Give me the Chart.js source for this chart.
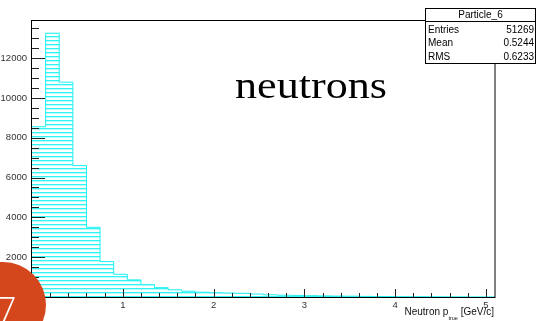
<!DOCTYPE html>
<html>
<head>
<meta charset="utf-8">
<script src="https://cdn.jsdelivr.net/npm/chart.js@4.4.1/dist/chart.umd.min.js"></script>
<style>
  html, body { margin: 0; padding: 0; background: #fff; }
  canvas { display: block; }
</style>
</head>
<body>
<canvas id="myChart" width="537" height="321"></canvas>
<script>
// neutron momentum histogram, 0.15 GeV/c bins from 0 to 5.1
const binWidth = 0.15
const xMax = 5.1
const counts = [
  8550, 13250, 10790, 6600, 3500, 1780, 1140, 860, 620, 470,
  360, 290, 240, 215, 200, 185, 150, 110, 90, 80,
  65, 55, 45, 40, 30, 25, 20, 18, 15, 12,
  10, 8, 6, 5
]
const xTicks = [1, 2, 3, 4, 5]
const yTicks = [2000, 4000, 6000, 8000, 10000, 12000]
const histName = 'Particle_6'
const statLabels = ['Entries', 'Mean', 'RMS']
const statValues = ['51269', '0.5244', '0.6233']
const label = 'neutrons'
const slideNo = '7'

const cyan = '#1ff0f0'
const tickFont = { family: 'Liberation Sans', size: 9.5 }

// horizontal hatch used as the histogram fill
makeHatch = () => {
  const c = document.createElement('canvas')
  c.width = 4
  c.height = 4
  const g = c.getContext('2d')
  g.fillStyle = '#ffffff'
  g.fillRect(0, 0, 4, 4)
  g.fillStyle = '#2ff6f6'
  g.fillRect(0, 0, 4, 1)
  g.fillStyle = '#b8fbfb'
  g.fillRect(0, 1, 4, 1)
  return g.createPattern(c, 'repeat')
}

// step outline: (lower edge, count) then one point per upper bin edge carrying the bin count
let points = [{ x: 0, y: counts[0] }]
counts.forEach((c, i) => points.push({ x: +((i + 1) * binWidth).toFixed(2), y: c }))

const yMax = 1.05 * Math.max(...counts)

const rootDecor = {
  id: 'rootDecor',
  afterDraw: (chart) => {
    const ctx = chart.ctx
    const a = chart.chartArea
    const xs = chart.scales.x
    const ys = chart.scales.y
    ctx.save()

    // frame
    ctx.strokeStyle = '#000'
    ctx.lineWidth = 1
    ctx.strokeRect(a.left - 0.5, a.top + 0.5, a.right - a.left + 0.5, a.bottom - a.top)

    // tick marks drawn inward, minor every 500 / 0.2
    ctx.strokeStyle = '#222'
    ctx.beginPath()
    for (let v = 0; v <= yMax; v += 500) {
      const py = Math.round(ys.getPixelForValue(v)) + 0.5
      const len = v % 2000 === 0 ? 13 : 7
      ctx.moveTo(a.left, py)
      ctx.lineTo(a.left + len, py)
    }
    for (let k = 0; k * 0.2 <= xMax + 1e-6; k++) {
      const px = Math.round(xs.getPixelForValue(k * 0.2)) + 0.5
      const len = k % 5 === 0 ? 8 : 4
      ctx.moveTo(px, a.bottom)
      ctx.lineTo(px, a.bottom - len)
    }
    ctx.stroke()

    // large in-plot label
    ctx.fillStyle = '#000'
    ctx.font = '38px "Liberation Serif"'
    ctx.textBaseline = 'alphabetic'
    const lw = ctx.measureText(label).width
    ctx.save()
    ctx.translate(235, 98)
    ctx.scale(152 / lw, 1)
    ctx.fillText(label, 0, 0)
    ctx.restore()

    // axis title with subscript
    ctx.fillStyle = '#111'
    ctx.font = '10px "Liberation Sans"'
    ctx.textAlign = 'right'
    const unit = ' [GeV/c]'
    ctx.fillText(unit, 494, 315)
    const uw = ctx.measureText(unit).width
    ctx.font = '5.5px "Liberation Sans"'
    const sub = 'true'
    ctx.fillText(sub, 494 - uw, 320)
    const sw = ctx.measureText(sub).width
    ctx.font = '10px "Liberation Sans"'
    ctx.fillText('Neutron p', 494 - uw - sw, 315)

    // stats box
    const bx = 425, by = 8, bw = 111, bh = 55
    ctx.fillStyle = '#fff'
    ctx.fillRect(bx, by, bw, bh)
    ctx.strokeStyle = '#000'
    ctx.strokeRect(bx + 0.5, by + 0.5, bw - 1, bh)
    ctx.beginPath()
    ctx.moveTo(bx, 21.5)
    ctx.lineTo(bx + bw, 21.5)
    ctx.stroke()
    ctx.fillStyle = '#000'
    ctx.font = '10px "Liberation Sans"'
    ctx.textBaseline = 'middle'
    ctx.textAlign = 'center'
    ctx.fillText(histName, bx + bw / 2, 15)
    statLabels.forEach((s, i) => {
      const ty = 30 + i * 13.5
      ctx.textAlign = 'left'
      ctx.fillText(s, bx + 3, ty)
      ctx.textAlign = 'right'
      ctx.fillText(statValues[i], bx + bw - 2, ty)
    })

    // page number badge
    ctx.fillStyle = '#d4471c'
    ctx.beginPath()
    ctx.arc(3, 305, 43, 0, Math.PI * 2)
    ctx.fill()
    ctx.fillStyle = '#fff'
    ctx.font = '300 36px "Open Sans"'
    ctx.textAlign = 'left'
    ctx.textBaseline = 'alphabetic'
    ctx.fillText(slideNo, -4, 323)

    ctx.restore()
  }
}

new Chart('myChart', {
  type: 'line',
  data: {
    datasets: [{
      data: points,
      stepped: 'after',
      borderColor: cyan,
      borderWidth: 1,
      backgroundColor: makeHatch(),
      fill: 'origin',
      pointRadius: 0,
      tension: 0
    }]
  },
  options: {
    responsive: false,
    animation: false,
    devicePixelRatio: 1,
    layout: { padding: { top: 20, right: 42, left: 0, bottom: 0 } },
    plugins: {
      legend: { display: false },
      tooltip: { enabled: false }
    },
    scales: {
      x: {
        type: 'linear',
        min: 0,
        max: xMax,
        grid: { display: false, drawTicks: false },
        border: { display: false },
        afterBuildTicks: (s) => { s.ticks = xTicks.map(v => ({ value: v })) },
        afterFit: (s) => { s.height = 24 },
        ticks: { font: tickFont, color: '#333', padding: 3, maxRotation: 0, callback: (v) => String(v) }
      },
      y: {
        min: 0,
        max: yMax,
        grid: { display: false, drawTicks: false },
        border: { display: false },
        afterBuildTicks: (s) => { s.ticks = yTicks.map(v => ({ value: v })) },
        afterFit: (s) => { s.width = 32 },
        ticks: { font: tickFont, color: '#333', padding: 5, callback: (v) => String(v) }
      }
    }
  },
  plugins: [rootDecor]
})
</script>
</body>
</html>
